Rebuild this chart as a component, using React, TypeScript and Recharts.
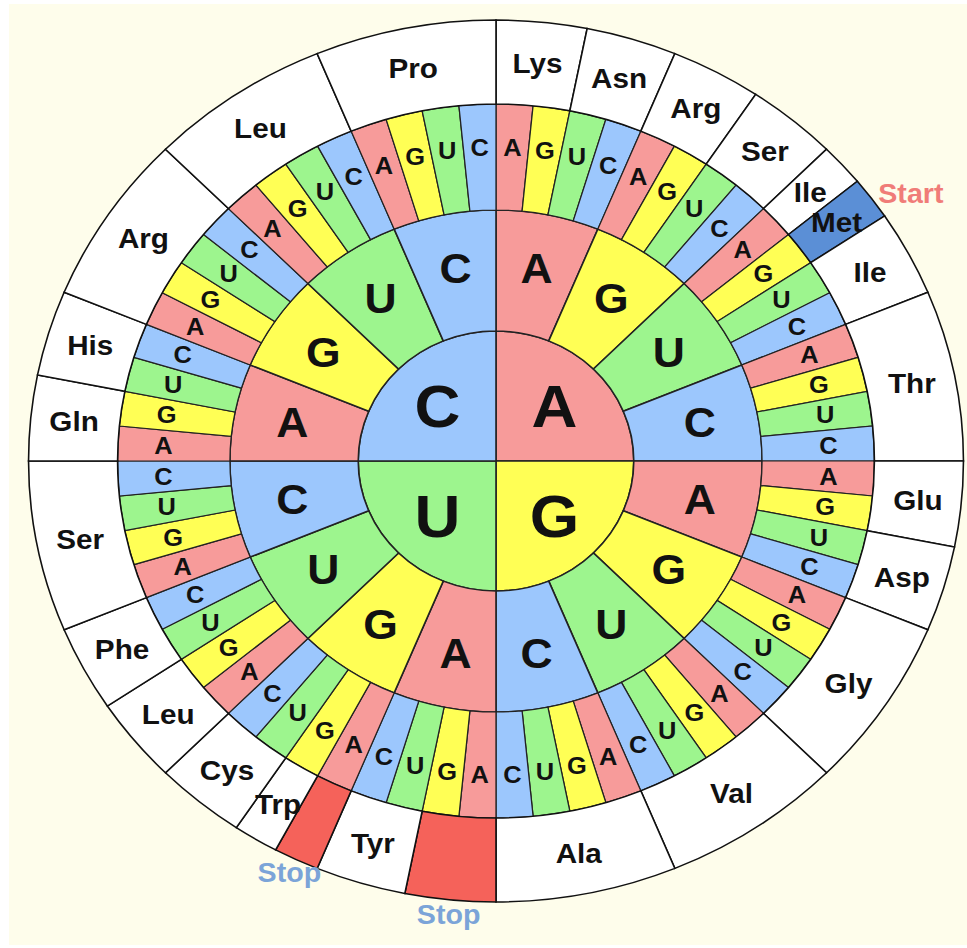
import { PieChart, Pie, Cell } from "recharts";

const BASES = ["A", "G", "U", "C"];
const BASE_COLORS: Record<string, string> = {
  A: "#F79B9A",
  G: "#FFFF55",
  U: "#9DF58E",
  C: "#9CC7FD",
};

// amino acids going clockwise from 12 o'clock, with how many codons each covers
const AMINO_NAMES = [
  "Lys", "Asn", "Arg", "Ser", "Ile", "Met", "Ile", "Thr",
  "Glu", "Asp", "Gly", "Val", "Ala",
  "Stop", "Tyr", "Stop", "Trp", "Cys", "Leu", "Phe", "Ser",
  "Gln", "His", "Arg", "Leu", "Pro",
];
const AMINO_CODONS = [
  2, 2, 2, 2, 1, 1, 2, 4,
  2, 2, 4, 4, 4,
  2, 2, 1, 1, 2, 2, 2, 4,
  2, 2, 4, 4, 4,
];

const firstBase = BASES.map((b) => ({ base: b, value: 1 }));
const secondBase = BASES.flatMap(() => BASES.map((b) => ({ base: b, value: 1 })));
const thirdBase = BASES.flatMap(() =>
  BASES.flatMap(() => BASES.map((b) => ({ base: b, value: 1 })))
);
const amino = AMINO_NAMES.map((name, i) => ({ name, value: AMINO_CODONS[i] }));

const CX = 496;
const CY = 461;
const RAD = Math.PI / 180;
const FONT = "'Liberation Sans', Arial, Helvetica, sans-serif";

function aminoFill(name: string) {
  if (name === "Stop") return "#F5625A";
  if (name === "Met") return "#5B8FD6";
  return "#FFFFFF";
}

function ringLabel(
  r: number,
  size: number,
  getText: (i: number) => string | null,
  color = "#111",
  anchor: "middle" | "start" = "middle"
) {
  return (props: any) => {
    const { cx, cy, midAngle, index } = props;
    const text = getText(index);
    if (!text) return null;
    const x = cx + r * Math.cos(-midAngle * RAD);
    const y = cy + r * Math.sin(-midAngle * RAD);
    return (
      <text
        x={x}
        y={y}
        textAnchor={anchor}
        dominantBaseline="central"
        fill={color}
        fontSize={size}
        fontWeight="bold"
        fontFamily={FONT}
      >
        {text}
      </text>
    );
  };
}

export default function App() {
  return (
    <div
      style={{
        position: "absolute",
        left: 0,
        top: 0,
        width: 967,
        height: 948,
        background: "#FFFFFF",
        overflow: "hidden",
      }}
    >
      <div
        style={{
          position: "absolute",
          left: 9,
          top: 4,
          width: 958,
          height: 941,
          background: "#FEFDEB",
        }}
      />
      <div
        style={{
          position: "absolute",
          left: 0,
          top: 0,
          transform: "scaleX(1.06)",
          transformOrigin: `${CX}px ${CY}px`,
        }}
      >
        <PieChart width={967} height={948} margin={{ top: 0, right: 0, bottom: 0, left: 0 }}>
          <Pie
            data={firstBase}
            dataKey="value"
            cx={CX}
            cy={CY}
            innerRadius={0}
            outerRadius={130}
            startAngle={90}
            endAngle={-270}
            stroke="#222"
            strokeWidth={1.5}
            labelLine={false}
            label={ringLabel(78, 60, (i) => firstBase[i].base)}
            isAnimationActive={false}
          >
            {firstBase.map((d, i) => (
              <Cell key={i} fill={BASE_COLORS[d.base]} />
            ))}
          </Pie>
          <Pie
            data={secondBase}
            dataKey="value"
            cx={CX}
            cy={CY}
            innerRadius={130}
            outerRadius={251}
            startAngle={90}
            endAngle={-270}
            stroke="#222"
            strokeWidth={1.5}
            labelLine={false}
            label={ringLabel(196, 42, (i) => secondBase[i].base)}
            isAnimationActive={false}
          >
            {secondBase.map((d, i) => (
              <Cell key={i} fill={BASE_COLORS[d.base]} />
            ))}
          </Pie>
          <Pie
            data={thirdBase}
            dataKey="value"
            cx={CX}
            cy={CY}
            innerRadius={251}
            outerRadius={357}
            startAngle={90}
            endAngle={-270}
            stroke="#222"
            strokeWidth={1.2}
            labelLine={false}
            label={ringLabel(314, 24, (i) => thirdBase[i].base)}
            isAnimationActive={false}
          >
            {thirdBase.map((d, i) => (
              <Cell key={i} fill={BASE_COLORS[d.base]} />
            ))}
          </Pie>
          <Pie
            data={amino}
            dataKey="value"
            cx={CX}
            cy={CY}
            innerRadius={357}
            outerRadius={441}
            startAngle={90}
            endAngle={-270}
            stroke="#111"
            strokeWidth={1.5}
            labelLine={false}
            label={ringLabel(400, 28, (i) => (amino[i].name === "Stop" ? null : amino[i].name))}
            isAnimationActive={false}
          >
            {amino.map((d, i) => (
              <Cell key={i} fill={aminoFill(d.name)} />
            ))}
          </Pie>
          {/* Start / Stop annotations outside the wheel */}
          <Pie
            data={amino}
            dataKey="value"
            cx={CX}
            cy={CY}
            innerRadius={441}
            outerRadius={442}
            startAngle={90}
            endAngle={-270}
            fill="none"
            stroke="none"
            labelLine={false}
            label={ringLabel(456, 27, (i) => (amino[i].name === "Stop" ? "Stop" : null), "#7BA4D8")}
            isAnimationActive={false}
          />
          <Pie
            data={amino}
            dataKey="value"
            cx={CX}
            cy={CY}
            innerRadius={441}
            outerRadius={442}
            startAngle={90}
            endAngle={-270}
            fill="none"
            stroke="none"
            labelLine={false}
            label={ringLabel(449, 27, (i) => (amino[i].name === "Met" ? "Start" : null), "#F07C78", "start")}
            isAnimationActive={false}
          />
        </PieChart>
      </div>
    </div>
  );
}
